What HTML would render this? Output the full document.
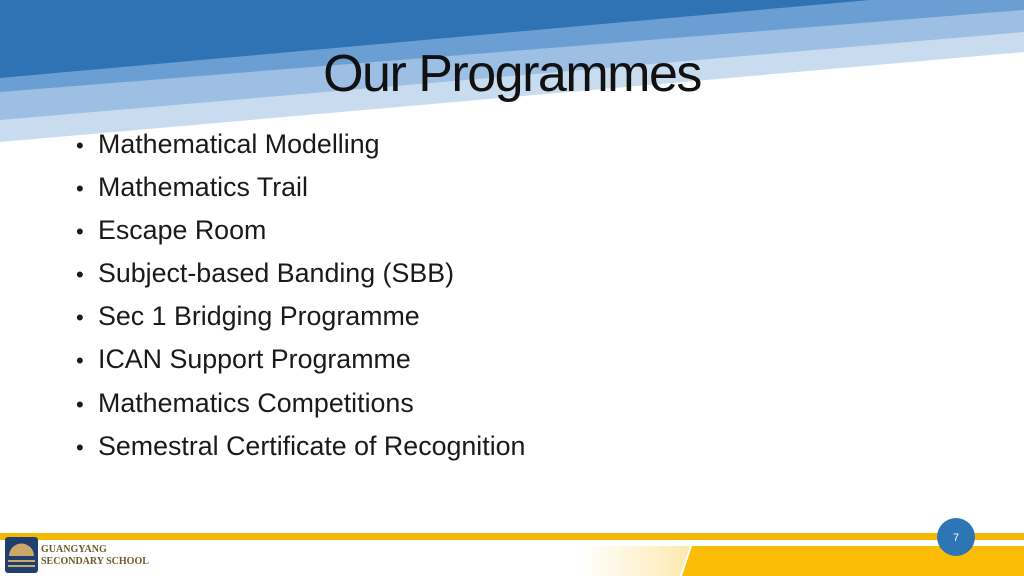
<!DOCTYPE html>
<html><head><meta charset="utf-8"><style>
body{margin:0;width:1024px;height:576px;position:relative;overflow:hidden;background:#fff;font-family:"Liberation Sans",sans-serif}
.t{position:absolute}
#title{left:0;width:1024px;top:44px;text-align:center;font-size:52px;color:#111;letter-spacing:-1.5px}
ul{position:absolute;left:76px;top:126px;margin:0;padding:0;list-style:none}
li{font-size:26.8px;color:#1a1a1a;height:43.1px;line-height:36px;white-space:nowrap}
li:before{content:"•";display:inline-block;width:22px;font-size:22px}
</style></head><body>
<svg class="t" style="left:0;top:0" width="1024" height="576">
<polygon points="0,0 1024,0 1024,52 0,142" fill="#c9dbef"/>
<polygon points="0,0 1024,0 1024,32 0,120" fill="#9dbfe3"/>
<polygon points="0,0 1024,0 1024,10 0,92" fill="#6b9fd4"/>
<polygon points="0,0 870,0 0,78" fill="#2f73b5"/>
<rect x="0" y="533" width="1024" height="7" fill="#f5b800"/>
<defs><linearGradient id="g" x1="0" x2="1"><stop offset="0" stop-color="#fff"/><stop offset="1" stop-color="#fde9b0"/></linearGradient></defs>
<polygon points="580,546 690,546 680,576 580,576" fill="url(#g)"/>
<polygon points="692,546 1024,546 1024,576 682,576" fill="#fbbc05"/>
<rect x="5" y="537" width="33" height="36" rx="3" fill="#1f3f6e"/>
<path d="M9,556 A12,12 0 0 1 34,556 Z" fill="#c9a86a"/>
<rect x="8" y="560" width="27" height="2" fill="#c9a86a"/>
<rect x="8" y="565" width="27" height="2" fill="#c9a86a"/>
<circle cx="956" cy="537" r="19" fill="#2e75b6"/>
<text x="956" y="541" font-size="11" fill="#fff" text-anchor="middle" font-family="Liberation Sans">7</text>
<text x="41" y="552" font-size="10" fill="#6b5a2a" font-family="Liberation Serif" font-weight="bold">GUANGYANG</text>
<text x="41" y="564" font-size="10" fill="#6b5a2a" font-family="Liberation Serif" font-weight="bold">SECONDARY SCHOOL</text>
</svg>
<div id="title" class="t">Our Programmes</div>
<ul>
<li>Mathematical Modelling</li>
<li>Mathematics Trail</li>
<li>Escape Room</li>
<li>Subject-based Banding (SBB)</li>
<li>Sec 1 Bridging Programme</li>
<li>ICAN Support Programme</li>
<li>Mathematics Competitions</li>
<li>Semestral Certificate of Recognition</li>
</ul>
</body></html>
